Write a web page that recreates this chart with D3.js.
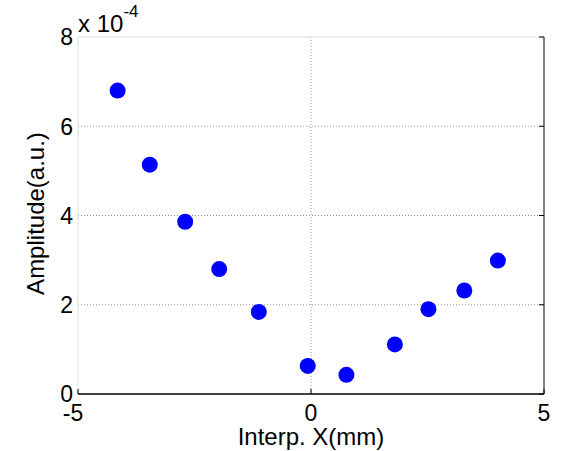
<!DOCTYPE html>
<html>
<head>
<meta charset="utf-8">
<script src="https://cdn.jsdelivr.net/npm/d3@7"></script>
<style>
  body { margin: 0; background: #fff; }
  text { font-family: Arial, "Liberation Sans", Helvetica, sans-serif; fill: #000; }
</style>
</head>
<body>
<div id="chart"></div>
<script>
// measured points (x in mm, amplitude in 1e-4 a.u.)
var xs = [-4.15, -3.46, -2.70, -1.97, -1.12, -0.07, 0.76, 1.80, 2.52, 3.29, 4.01];
var amps = [6.80, 5.14, 3.86, 2.80, 1.84, 0.63, 0.43, 1.11, 1.90, 2.32, 2.99];
var xTicks = [-5, 0, 5];
var yTicks = [0, 2, 4, 6, 8];

var W = 566, H = 451;
var margin = { left: 78, right: 22, top: 37, bottom: 57 };
var width = W - margin.left - margin.right;
var height = H - margin.top - margin.bottom;

var x = d3.scaleLinear().domain([-5, 5]).range([0, width]);
var y = d3.scaleLinear().domain([0, 8]).range([height, 0]);

var svg = d3.select('#chart')
    .append('svg')
    .attr('width', W)
    .attr('height', H)
    .append('g')
    .attr('transform', 'translate(' + margin.left + ',' + margin.top + ')');

// grid lines (dotted)
svg.selectAll('.hgrid')
    .data(yTicks.filter(function (d) { return d > 0 && d < 8; }))
    .enter().append('line')
    .attr('x1', 0).attr('x2', width)
    .attr('y1', function (d) { return y(d); })
    .attr('y2', function (d) { return y(d); })
    .attr('stroke', '#999')
    .attr('stroke-width', 1)
    .style('stroke-dasharray', '1,2');

svg.selectAll('.vgrid')
    .data(xTicks.filter(function (d) { return d > -5 && d < 5; }))
    .enter().append('line')
    .attr('y1', 0).attr('y2', height)
    .attr('x1', function (d) { return x(d); })
    .attr('x2', function (d) { return x(d); })
    .attr('stroke', '#999')
    .attr('stroke-width', 1)
    .style('stroke-dasharray', '1,2');

// box: top & left light, bottom & right black
svg.append('line')
    .attr('x1', 0).attr('x2', width).attr('y1', 0).attr('y2', 0)
    .attr('stroke', '#ddd');
svg.append('line')
    .attr('x1', 0).attr('x2', 0).attr('y1', 0).attr('y2', height)
    .attr('stroke', '#ddd');
svg.append('line')
    .attr('x1', 0).attr('x2', width).attr('y1', height).attr('y2', height)
    .attr('stroke', 'black').attr('stroke-width', 1.5);
svg.append('line')
    .attr('x1', width).attr('x2', width).attr('y1', 0).attr('y2', height)
    .attr('stroke', 'black').attr('stroke-width', 1);

// inward ticks
svg.selectAll('.xt')
    .data(xTicks)
    .enter().append('line')
    .attr('x1', function (d) { return x(d); })
    .attr('x2', function (d) { return x(d); })
    .attr('y1', height).attr('y2', height - 5)
    .attr('stroke', 'black');
svg.selectAll('.yt')
    .data(yTicks)
    .enter().append('line')
    .attr('x1', width).attr('x2', width - 5)
    .attr('y1', function (d) { return y(d); })
    .attr('y2', function (d) { return y(d); })
    .attr('stroke', 'black');

// tick labels (minus sign hangs left like matlab)
svg.selectAll('.xl')
    .data(xTicks)
    .enter().append('text')
    .attr('x', function (d) { return x(d); })
    .attr('dx', function (d) { return d < 0 ? -5 : 0; })
    .attr('y', height + 27)
    .attr('text-anchor', 'middle')
    .style('font-size', '23px')
    .text(function (d) { return d; });

svg.selectAll('.yl')
    .data(yTicks)
    .enter().append('text')
    .attr('x', -5)
    .attr('y', function (d) { return y(d); })
    .attr('dy', '0.36em')
    .attr('text-anchor', 'end')
    .style('font-size', '23px')
    .text(function (d) { return d; });

// exponent
var expo = svg.append('text')
    .attr('x', 0)
    .attr('y', -5)
    .style('font-size', '24px');
expo.append('tspan').text('x 10');
expo.append('tspan')
    .attr('dy', -15)
    .style('font-size', '17px')
    .text('-4');

// axis labels
svg.append('text')
    .attr('x', width / 2)
    .attr('y', height + 51)
    .attr('text-anchor', 'middle')
    .style('font-size', '24px')
    .text('Interp. X(mm)');

svg.append('text')
    .attr('transform', 'translate(' + (-34) + ',' + (height / 2 - 2) + ') rotate(-90)')
    .attr('text-anchor', 'middle')
    .style('font-size', '24px')
    .text('Amplitude(a.u.)');

// points
svg.selectAll('.pt')
    .data(xs)
    .enter().append('circle')
    .attr('cx', function (d) { return x(d); })
    .attr('cy', function (d, i) { return y(amps[i]); })
    .attr('r', 8)
    .attr('fill', '#0000ff');
</script>
</body>
</html>
